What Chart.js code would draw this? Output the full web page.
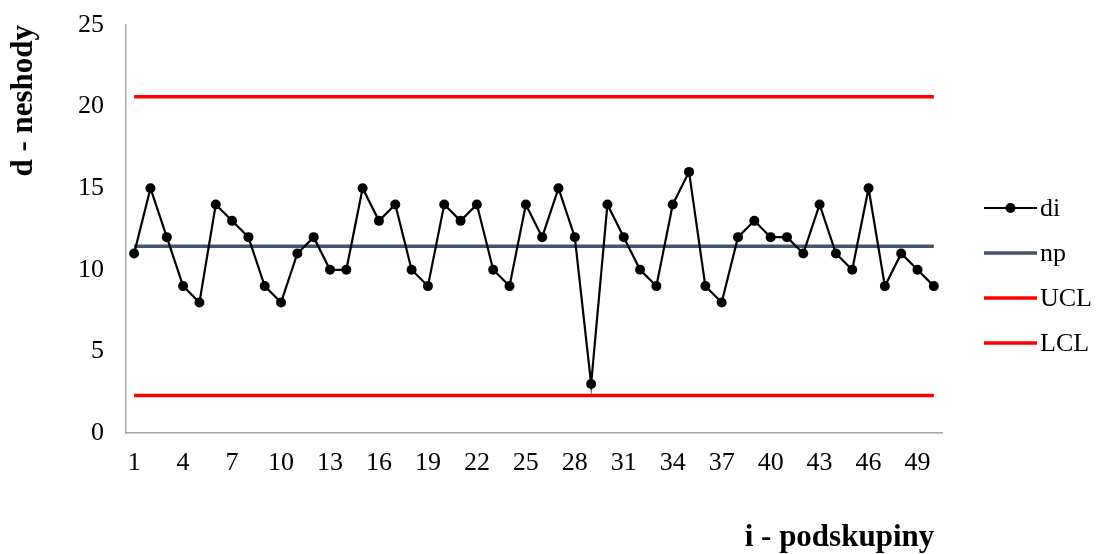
<!DOCTYPE html>
<html>
<head>
<meta charset="utf-8">
<script src="https://cdn.jsdelivr.net/npm/chart.js@4"></script>
<style>
  body { margin: 0; background: #fff; }
  #wrap { width: 1096px; height: 554px; }
</style>
</head>
<body>
<div id="wrap"><canvas id="npChart" width="1096" height="554"></canvas></div>
<script>
// subgroup numbers 1..50
const categories = ["1","2","3","4","5","6","7","8","9","10","11","12","13","14","15","16","17","18","19","20",
  "21","22","23","24","25","26","27","28","29","30","31","32","33","34","35","36","37","38","39","40",
  "41","42","43","44","45","46","47","48","49","50"];

// nonconforming count per subgroup
const diValues = [11, 15, 12, 9, 8, 14, 13, 12, 9, 8,
  11, 12, 10, 10, 15, 13, 14, 10, 9, 14,
  13, 14, 10, 9, 14, 12, 15, 12, 3, 14,
  12, 10, 9, 14, 16, 9, 8, 12, 13, 12,
  12, 11, 14, 11, 10, 15, 9, 11, 10, 9];

// centre line and control limits
const npValue = 11.44;
const uclValue = 20.6;
const lclValue = 2.3;

const yTicks = [0, 5, 10, 15, 20, 25];

const serif = "'Liberation Serif', 'Times New Roman', serif";
const axisGray = "#a6a6a6";

function flatLine(v) {
  return [
    { x: categories[0], y: v },
    { x: categories[categories.length - 1], y: v },
  ];
}

// legend drawn by hand so "di" gets the line + dot sample
const legendPlugin = {
  id: "sideLegend",
  afterDraw(chart) {
    const ctx = chart.ctx;
    const x0 = 984, x1 = 1037, tx = 1040;
    let y = 208;
    ctx.save();
    chart.data.datasets.forEach((ds) => {
      ctx.strokeStyle = ds.borderColor;
      ctx.lineWidth = ds.borderWidth;
      ctx.beginPath();
      ctx.moveTo(x0, y);
      ctx.lineTo(x1, y);
      ctx.stroke();
      if (ds.pointRadius > 0) {
        ctx.fillStyle = ds.pointBackgroundColor;
        ctx.beginPath();
        ctx.arc((x0 + x1) / 2, y, ds.pointRadius, 0, Math.PI * 2);
        ctx.fill();
      }
      ctx.fillStyle = "#000";
      ctx.font = "26px " + serif;
      ctx.textBaseline = "middle";
      ctx.textAlign = "left";
      ctx.fillText(ds.label, tx, y + 1);
      y += 45;
    });
    ctx.restore();
  },
};

const ctx = document.getElementById("npChart").getContext("2d");
new Chart(ctx, {
  type: "line",
  data: {
    labels: categories,
    datasets: [
      {
        label: "di",
        data: diValues,
        borderColor: "#000000",
        backgroundColor: "#000000",
        borderWidth: 2.2,
        pointRadius: 5,
        pointBackgroundColor: "#000000",
        pointBorderWidth: 0,
        tension: 0,
        order: 0,
      },
      {
        label: "np",
        data: flatLine(npValue),
        borderColor: "#44546a",
        borderWidth: 3.5,
        pointRadius: 0,
        order: 1,
      },
      {
        label: "UCL",
        data: flatLine(uclValue),
        borderColor: "#ff0000",
        borderWidth: 3.5,
        pointRadius: 0,
        order: 2,
      },
      {
        label: "LCL",
        data: flatLine(lclValue),
        borderColor: "#ff0000",
        borderWidth: 3.5,
        pointRadius: 0,
        order: 3,
      },
    ],
  },
  options: {
    responsive: false,
    animation: false,
    layout: { padding: { top: 0, right: 154, left: 0, bottom: 0 } },
    plugins: {
      legend: { display: false },
      tooltip: { enabled: false },
    },
    scales: {
      x: {
        type: "category",
        offset: true,
        grid: { display: false, drawTicks: false },
        border: { color: axisGray, width: 1.5 },
        ticks: {
          autoSkip: false,
          maxRotation: 0,
          color: "#000",
          padding: 15,
          font: { family: serif, size: 26 },
          callback: function (value, index) {
            return index % 3 === 0 ? categories[index] : "";
          },
        },
        title: {
          display: true,
          text: "i - podskupiny ",
          align: "end",
          color: "#000",
          font: { family: serif, size: 31, weight: "bold" },
          padding: { top: 0, bottom: -3 },
        },
        afterFit(scale) {
          scale.height = 121;
        },
      },
      y: {
        min: 0,
        max: 25,
        afterBuildTicks(scale) {
          scale.ticks = yTicks.map((v) => ({ value: v }));
        },
        grid: { display: false, drawTicks: false },
        border: { color: axisGray, width: 1.5 },
        ticks: {
          color: "#000",
          padding: 22,
          font: { family: serif, size: 26 },
        },
        title: {
          display: true,
          text: "d - neshody",
          align: "end",
          color: "#000",
          font: { family: serif, size: 31, weight: "bold" },
          padding: { top: 5, bottom: 0 },
        },
        afterFit(scale) {
          scale.width = 126;
          // tick padding is otherwise added above the top label too
          scale.paddingTop = 25;
          scale.paddingBottom = 0;
        },
      },
    },
  },
  plugins: [legendPlugin],
});
</script>
</body>
</html>
